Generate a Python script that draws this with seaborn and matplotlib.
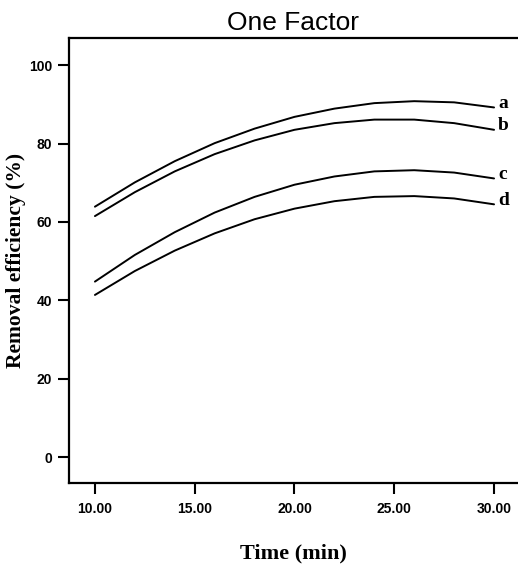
import pandas as pd
import matplotlib
matplotlib.use('Agg')
import matplotlib.pyplot as plt
import seaborn as sns

# values
time_min = [10, 12, 14, 16, 18, 20, 22, 24, 26, 28, 30]
curve_a = [63.9, 70.1, 75.5, 80.1, 83.8, 86.8, 88.9, 90.3, 90.8, 90.5, 89.2]
curve_b = [61.5, 67.6, 72.9, 77.3, 80.8, 83.5, 85.2, 86.1, 86.1, 85.2, 83.5]
curve_c = [44.8, 51.6, 57.4, 62.4, 66.4, 69.5, 71.6, 72.9, 73.2, 72.6, 71.1]
curve_d = [41.4, 47.5, 52.7, 57.1, 60.7, 63.4, 65.3, 66.4, 66.6, 66.0, 64.5]
curve_names = ['a', 'b', 'c', 'd']
x_ticks = [10, 15, 20, 25, 30]
y_ticks = [0, 20, 40, 60, 80, 100]

series = {'a': curve_a, 'b': curve_b, 'c': curve_c, 'd': curve_d}
df = pd.concat([pd.DataFrame({'Time': time_min, 'Removal': v, 'curve': k})
                for k, v in series.items()], ignore_index=True)

sns.set_style('ticks')

fig = plt.figure(figsize=(5.18, 5.70), dpi=100)
ax = fig.add_axes([0.1332, 0.1526, 0.8668, 0.7807])

sns.lineplot(data=df, x='Time', y='Removal', hue='curve',
             palette={k: 'black' for k in curve_names}, linewidth=1.4,
             legend=False, ax=ax)

# curve labels at the right end of each line
for name in curve_names:
    ax.text(30.2, series[name][-1] + 1.0, name, ha='left', va='center',
            fontsize=14, fontweight='bold', family='Liberation Serif', color='black')

ax.set_xlim(8.70, 31.2)
ax.set_ylim(-6.55, 106.9)
ax.set_xticks(x_ticks)
ax.set_xticklabels([f'{t:.2f}' for t in x_ticks])
ax.set_yticks(y_ticks)
ax.set_yticklabels([str(t) for t in y_ticks])

for lbl in ax.get_xticklabels() + ax.get_yticklabels():
    lbl.set_fontfamily('Liberation Sans')
    lbl.set_fontweight('bold')
    lbl.set_fontsize(10)
    lbl.set_color('black')

ax.tick_params(axis='y', direction='out', length=8, width=1.5, pad=4, colors='black')
ax.tick_params(axis='x', direction='out', length=8, width=1.5, pad=6, colors='black')

ax.spines['right'].set_visible(False)
for s in ['left', 'top', 'bottom']:
    ax.spines[s].set_linewidth(1.6)
    ax.spines[s].set_color('black')

ax.set_title('One Factor', fontsize=19, family='Liberation Sans', color='black', pad=6)
ax.set_xlabel('Time (min)', fontsize=16, fontweight='bold', family='Liberation Serif',
              color='black')
ax.set_ylabel('Removal efficiency (%)', fontsize=15.5, fontweight='bold',
              family='Liberation Serif', color='black')
ax.xaxis.set_label_coords(0.5, -0.135)
ax.yaxis.set_label_coords(-0.095, 0.5)

fig.savefig('out.png', dpi=100)
